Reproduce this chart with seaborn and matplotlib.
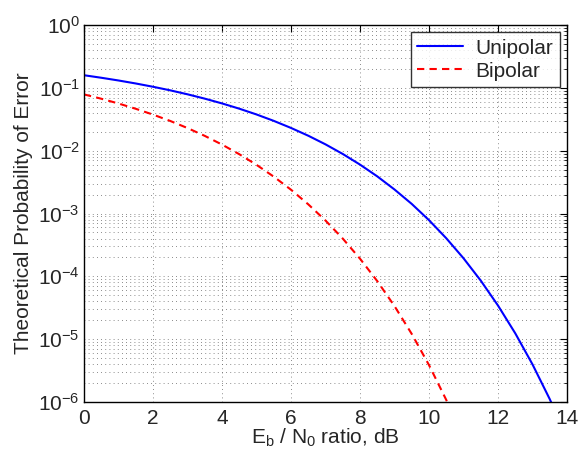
import numpy as np
import pandas as pd
import matplotlib
matplotlib.use("Agg")
import matplotlib.pyplot as plt
import seaborn as sns
from matplotlib.ticker import LogLocator, NullFormatter

ebn0_uni = [0, 0.5, 1, 1.5, 2, 2.5, 3, 3.5, 4, 4.5, 5, 5.5, 6, 6.5, 7, 7.5, 8, 8.5, 9, 9.5,
            10, 10.5, 11, 11.5, 12, 12.5, 13, 13.5, 14]
pe_unipolar = [0.1587, 0.1447, 0.1309, 0.1173, 0.1040, 0.0912, 0.0789, 0.0673, 0.0565, 0.0466,
               0.0377, 0.0298, 0.0230, 0.0173, 0.0126, 0.00886, 0.0060, 0.0039, 0.00241, 0.00142,
               0.000783, 0.000404, 0.000194, 8.55e-5, 3.43e-5, 1.24e-5, 3.97e-6, 1.11e-6, 2.69e-7]
ebn0_bip = [0, 0.5, 1, 1.5, 2, 2.5, 3, 3.5, 4, 4.5, 5, 5.5, 6, 6.5, 7, 7.5, 8, 8.5, 9, 9.5,
            10, 10.5, 11]
pe_bipolar = [0.0786, 0.0671, 0.0563, 0.0464, 0.0375, 0.0297, 0.0229, 0.0172, 0.0125, 0.00879,
              0.00595, 0.00386, 0.00239, 0.00140, 0.000773, 0.000399, 0.000191, 8.40e-5, 3.36e-5,
              1.21e-5, 3.87e-6, 1.08e-6, 2.61e-7]

sns.set_style("white")
plt.rcParams['font.family'] = ['Liberation Sans', 'DejaVu Sans']
plt.rcParams['mathtext.fontset'] = 'custom'
plt.rcParams['mathtext.rm'] = 'Liberation Sans'
plt.rcParams['mathtext.it'] = 'Liberation Sans'

FS = 15
fig = plt.figure(figsize=(5.81, 4.54), dpi=100)
ax = fig.add_axes([84 / 581, 1 - 402 / 454, 483 / 581, 377 / 454])

df_u = pd.DataFrame({"x": ebn0_uni, "y": pe_unipolar})
df_b = pd.DataFrame({"x": ebn0_bip, "y": pe_bipolar})
sns.lineplot(data=df_u, x="x", y="y", ax=ax, color="#0000ff", lw=1.5, label="Unipolar")
sns.lineplot(data=df_b, x="x", y="y", ax=ax, color="#ff0000", lw=1.5, ls=(0, (3.5, 2.5)), label="Bipolar")

ax.set_yscale("log")
ax.set_xlim(0, 14)
ax.set_ylim(1e-6, 1)
ax.set_xticks(range(0, 15, 2))
ax.yaxis.set_major_locator(LogLocator(base=10, numticks=10))
ax.yaxis.set_minor_locator(LogLocator(base=10, subs=np.arange(2, 10), numticks=100))
ax.yaxis.set_minor_formatter(NullFormatter())

dot = (0, (1.0, 4.0))
ax.grid(True, axis="x", which="major", color="#666666", ls=dot, lw=0.6)
ax.grid(True, axis="y", which="major", color="#666666", ls=dot, lw=0.6)
ax.grid(True, axis="y", which="minor", color="#666666", ls=dot, lw=0.6)
for s in ax.spines.values():
    s.set_color("black")
    s.set_linewidth(1.0)
ax.tick_params(which="both", direction="in", top=True, right=True, labelsize=FS, color="black")
ax.tick_params(axis="x", pad=5)
ax.tick_params(axis="y", pad=3)
ax.tick_params(which="major", length=5)
ax.tick_params(which="minor", length=2.5)

ax.set_xlabel(r"E$_\mathrm{b}$ / N$_\mathrm{0}$ ratio, dB", fontsize=FS, labelpad=-1)
ax.set_ylabel("Theoretical Probability of Error", fontsize=FS, labelpad=4)

leg = ax.legend(loc="upper right", fontsize=FS, frameon=True, fancybox=False,
                edgecolor="black", handlelength=2.2, borderaxespad=0.35,
                borderpad=0.3, labelspacing=0.2, handletextpad=0.6)
leg.get_frame().set_linewidth(1.0)

fig.savefig("out.png", dpi=100)
